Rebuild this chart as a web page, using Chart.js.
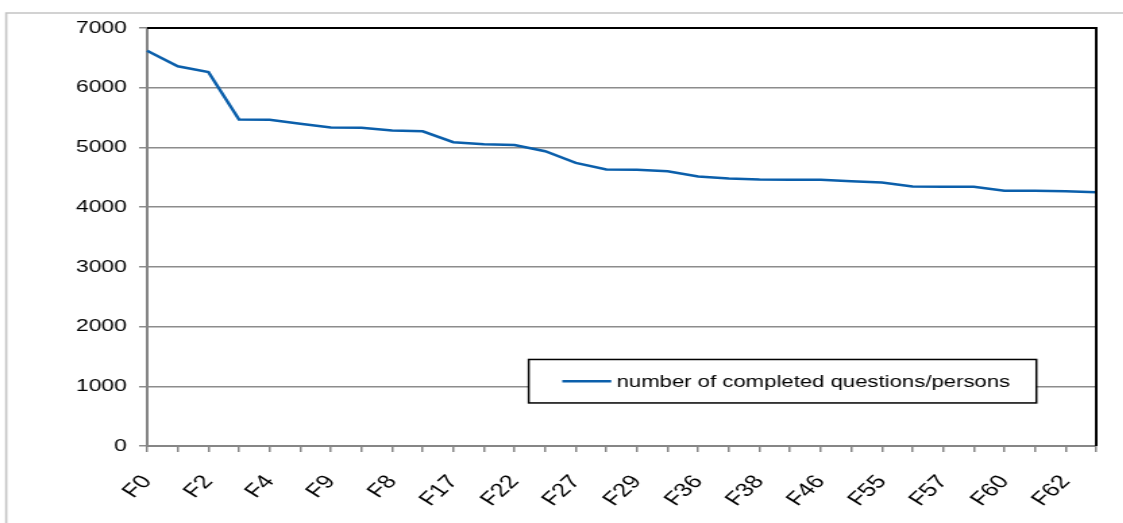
<!DOCTYPE html>
<html>
<head>
<meta charset="utf-8">
<script src="https://cdn.jsdelivr.net/npm/chart.js@4.4.1/dist/chart.umd.min.js"></script>
<style>
  html, body { margin: 0; padding: 0; background: #fff; overflow: hidden; }
  /* the reference picture is stretched sideways, so the chart is drawn narrow and scaled */
  #wrap { position: absolute; left: 0; top: 0; width: 832px; height: 523px;
          transform: scaleX(1.35); transform-origin: 0 0; }
</style>
</head>
<body>
<div id="wrap"><canvas id="myChart"></canvas></div>
<script>
// categories (only every other one is labelled on the axis)
const categories = ['F0', 'F1', 'F2', 'F3', 'F4', 'F5', 'F9', 'F7', 'F8', 'F10',
                    'F17', 'F19', 'F22', 'F25', 'F27', 'F28', 'F29', 'F30', 'F36', 'F37',
                    'F38', 'F41', 'F46', 'F50', 'F55', 'F56', 'F57', 'F58', 'F60', 'F61',
                    'F62', 'F63'];

const completed = [6620, 6358, 6264, 5467, 5462, 5395, 5333, 5330, 5283, 5270,
                   5087, 5055, 5042, 4937, 4742, 4630, 4625, 4602, 4513, 4480,
                   4463, 4460, 4458, 4435, 4413, 4346, 4341, 4340, 4274, 4274,
                   4268, 4251];

const seriesLabel = 'number of completed questions/persons';
const yTicks = [0, 1000, 2000, 3000, 4000, 5000, 6000, 7000];

const FONT = '"Liberation Sans", Arial, sans-serif';
const LINE_COLOR = '#0b5fab';

// outer frame + black top/right border of the plot area
const framePlugin = {
    id: 'frame',
    beforeDraw(chart) {
        const ctx = chart.ctx;
        ctx.save();
        ctx.strokeStyle = '#c4c4c4';
        ctx.lineWidth = 1.6;
        ctx.beginPath();
        ctx.moveTo(4.6, 600);
        ctx.lineTo(4.6, 13);
        ctx.lineTo(900, 13);
        ctx.stroke();
        ctx.restore();
    },
    afterDraw(chart) {
        const a = chart.chartArea;
        const ctx = chart.ctx;
        ctx.save();
        ctx.strokeStyle = '#000';
        ctx.lineWidth = 2;
        ctx.beginPath();
        ctx.moveTo(a.left, a.top);
        ctx.lineTo(a.right, a.top);
        ctx.lineTo(a.right, a.bottom);
        ctx.stroke();
        ctx.restore();
    }
};

// legend box sitting inside the plot area
const boxLegend = {
    id: 'boxLegend',
    afterDraw(chart) {
        const a = chart.chartArea;
        const w = a.right - a.left, h = a.bottom - a.top;
        const x0 = a.left + w * 0.402, x1 = a.left + w * 0.937;
        const y0 = a.top + h * 0.793, y1 = a.top + h * 0.897;
        const ym = (y0 + y1) / 2;
        const ds = chart.data.datasets[0];
        const ctx = chart.ctx;
        ctx.save();
        ctx.fillStyle = '#fff';
        ctx.fillRect(x0, y0, x1 - x0, y1 - y0);
        ctx.strokeStyle = '#000';
        ctx.lineWidth = 1.5;
        ctx.strokeRect(x0, y0, x1 - x0, y1 - y0);
        ctx.strokeStyle = ds.borderColor;
        ctx.lineWidth = 2.5;
        ctx.beginPath();
        ctx.moveTo(a.left + w * 0.4374, ym);
        ctx.lineTo(a.left + w * 0.489, ym);
        ctx.stroke();
        ctx.fillStyle = '#000';
        ctx.font = '16.4px ' + FONT;
        ctx.textBaseline = 'middle';
        ctx.textAlign = 'left';
        ctx.fillText(ds.label, a.left + w * 0.4946, ym + 1);
        ctx.restore();
    }
};

var ctx = document.getElementById('myChart').getContext('2d');
var chart = new Chart(ctx, {
    type: 'line',
    data: {
        labels: categories,
        datasets: [{
            label: seriesLabel,
            data: completed,
            borderColor: LINE_COLOR,
            backgroundColor: LINE_COLOR,
            borderWidth: 2.5,
            pointRadius: 0,
            tension: 0,
            fill: false
        }]
    },
    options: {
        responsive: true,
        maintainAspectRatio: false,
        animation: false,
        layout: { padding: { left: 56, top: 28, right: 20, bottom: 0 } },
        plugins: {
            legend: { display: false },
            tooltip: { enabled: false }
        },
        scales: {
            x: {
                offset: false,
                border: { color: '#868686', width: 2 },
                grid: { drawOnChartArea: false, drawTicks: true, tickLength: 6, color: '#868686', lineWidth: 1.5 },
                ticks: {
                    autoSkip: false,
                    maxRotation: 50,
                    minRotation: 50,
                    padding: 19,
                    color: '#000',
                    font: { family: FONT, size: 19 },
                    callback: (v, i) => (i % 2 === 0 ? categories[i] : '')
                },
                afterFit: (scale) => {
                    scale.height = 77;
                    scale.paddingLeft = 0;
                    scale.paddingRight = 0;
                }
            },
            y: {
                min: 0,
                max: 7000,
                border: { color: '#868686', width: 2 },
                grid: { color: '#8c8c8c', lineWidth: 1.5, tickLength: 6 },
                afterBuildTicks: (scale) => { scale.ticks = yTicks.map(v => ({ value: v })); },
                ticks: {
                    padding: 9,
                    color: '#000',
                    font: { family: FONT, size: 17 },
                    callback: (v) => String(v)
                },
                afterFit: (scale) => { scale.width = 53; }
            }
        }
    },
    plugins: [framePlugin, boxLegend]
});
</script>
</body>
</html>
